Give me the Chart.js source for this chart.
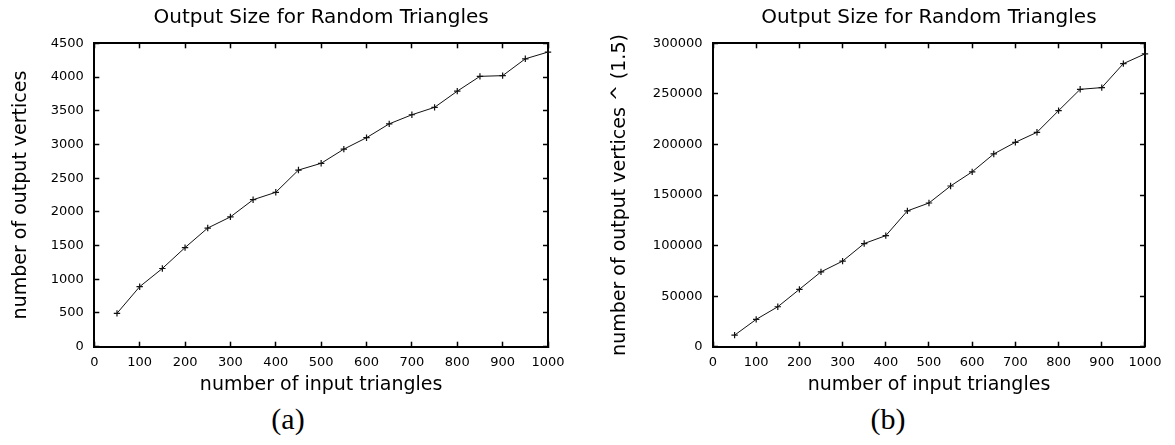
<!DOCTYPE html>
<html>
<head>
<meta charset="utf-8">
<script src="https://cdn.jsdelivr.net/npm/chart.js@4/dist/chart.umd.min.js"></script>
<style>
  html, body { margin: 0; padding: 0; background: #fff; }
  #page { position: relative; width: 1175px; height: 445px; overflow: hidden; background: #fff; }
  .panel { position: absolute; top: 0; height: 400px; }
  .cap { position: absolute; top: 404px; width: 80px; text-align: center;
         font-family: "Liberation Serif", serif; font-size: 30px; line-height: 30px; color: #000; }
</style>
</head>
<body>
<div id="page">
  <div class="panel" style="left:0; width:580px;"><canvas id="chartA"></canvas></div>
  <div class="panel" style="left:580px; width:595px;"><canvas id="chartB"></canvas></div>
  <div class="cap" style="left:248px;">(a)</div>
  <div class="cap" style="left:848px;">(b)</div>
</div>
<script>
// Number of input triangles for each run
const inputTriangles = [50, 100, 150, 200, 250, 300, 350, 400, 450, 500,
                        550, 600, 650, 700, 750, 800, 850, 900, 950, 1000];
// Measured output vertex counts
const outputVertices = [495, 890, 1160, 1470, 1760, 1925, 2180, 2290, 2620, 2720,
                        2930, 3100, 3305, 3440, 3550, 3790, 4010, 4020, 4270, 4370];
// Output vertex counts raised to the power 1.5
const outputVerticesPow = [11400, 27000, 39500, 56700, 74000, 84600, 102000, 109800, 134300, 142100,
                           158900, 172900, 190600, 202100, 212000, 233400, 254500, 256200, 279900, 289500];

// Tick values
const xTicks = [0, 100, 200, 300, 400, 500, 600, 700, 800, 900, 1000];
const yTicksA = [0, 500, 1000, 1500, 2000, 2500, 3000, 3500, 4000, 4500];
const yTicksB = [0, 50000, 100000, 150000, 200000, 250000, 300000];

const titleText = 'Output Size for Random Triangles';
const xTitle = 'number of input triangles';
const yTitleA = 'number of output vertices';
const yTitleB = 'number of output vertices ^ (1.5)';

const FONT = '"DejaVu Sans", sans-serif';
const INK = '#000';

function fixedTicks(values) {
  return function (scale) { scale.ticks = values.map(v => ({ value: v })); };
}

// Axis with inward tick marks (negative tick length) and a solid frame edge
function axisBase(position, min, max, tickValues, showLabels) {
  return {
    type: 'linear',
    position: position,
    min: min,
    max: max,
    afterBuildTicks: fixedTicks(tickValues),
    grid: {
      display: true,
      drawOnChartArea: false,
      drawTicks: true,
      tickLength: -5,
      tickWidth: 1.5,
      tickColor: INK
    },
    border: { display: true, color: INK, width: 2 },
    ticks: {
      display: showLabels,
      padding: 15.5,
      color: INK,
      font: { family: FONT, size: 13 },
      callback: v => String(v)
    }
  };
}

function buildChart(canvasId, values, yMax, yTicks, yTitle, yAxisWidth, yTitlePad, rightPad) {
  const points = inputTriangles.map((x, i) => ({ x: x, y: values[i] }));

  const x = axisBase('bottom', 0, 1000, xTicks, true);
  x.ticks.padding = 13.5;
  x.title = { display: true, text: xTitle, color: INK,
              font: { family: FONT, size: 19, lineHeight: 1.2 },
              padding: { top: 0, bottom: 3.6 } };
  x.afterFit = s => { s.height = 53.3; };

  const x2 = axisBase('top', 0, 1000, xTicks, false);
  x2.afterFit = s => { s.height = 0; };

  const y = axisBase('left', 0, yMax, yTicks, true);
  y.title = { display: true, text: yTitle, color: INK,
              font: { family: FONT, size: 19, lineHeight: 1.2 },
              padding: { top: yTitlePad, bottom: 0 } };
  y.afterFit = s => { s.width = yAxisWidth; };

  const y2 = axisBase('right', 0, yMax, yTicks, false);
  y2.afterFit = s => { s.width = 0; };

  return new Chart(document.getElementById(canvasId), {
    type: 'line',
    data: {
      datasets: [{
        data: points,
        borderColor: '#111',
        borderWidth: 1,
        tension: 0,
        fill: false,
        clip: false,
        pointStyle: 'cross',
        pointRadius: 3.2,
        pointBorderWidth: 1.2,
        pointBorderColor: '#111',
        pointBackgroundColor: '#111'
      }]
    },
    options: {
      responsive: true,
      maintainAspectRatio: false,
      devicePixelRatio: 1,
      animation: false,
      layout: { padding: { left: 0, right: rightPad, top: 0, bottom: 0 } },
      plugins: {
        legend: { display: false },
        tooltip: { enabled: false },
        title: {
          display: true,
          text: titleText,
          fullSize: false,
          color: INK,
          font: { family: FONT, size: 20, weight: 'normal', lineHeight: 1.2 },
          padding: { top: 6, bottom: 13.3 }
        }
      },
      scales: { x: x, x2: x2, y: y, y2: y2 }
    }
  });
}

buildChart('chartA', outputVertices, 4500, yTicksA, yTitleA, 94.3, 9.3, 32);
buildChart('chartB', outputVerticesPow, 300000, yTicksB, yTitleB, 133, 28.6, 28);
</script>
</body>
</html>
